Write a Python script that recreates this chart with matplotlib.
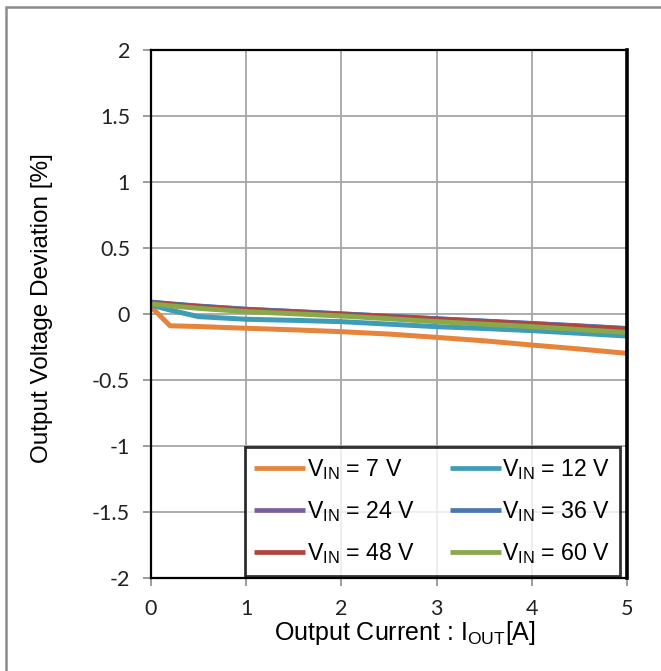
import matplotlib
matplotlib.use("Agg")
import matplotlib.pyplot as plt
from matplotlib.patches import Rectangle

# load current [A]
iout = [0, 0.2, 0.5, 1, 1.5, 2, 2.5, 3, 3.5, 4, 4.5, 5]

# output voltage deviation [%] per input voltage
dev_7v  = [0.055, -0.089, -0.095, -0.108, -0.120, -0.134, -0.152, -0.177, -0.203, -0.235, -0.265, -0.298]
dev_12v = [0.068, 0.030, -0.020, -0.040, -0.048, -0.058, -0.077, -0.096, -0.110, -0.126, -0.146, -0.167]
dev_24v = [0.088, 0.075, 0.058, 0.035, 0.018, 0.000, -0.018, -0.037, -0.055, -0.073, -0.092, -0.112]
dev_36v = [0.090, 0.077, 0.060, 0.036, 0.019, 0.001, -0.017, -0.036, -0.054, -0.072, -0.090, -0.110]
dev_48v = [0.085, 0.072, 0.055, 0.030, 0.014, -0.003, -0.021, -0.040, -0.058, -0.076, -0.096, -0.116]
dev_60v = [0.076, 0.062, 0.043, 0.018, 0.002, -0.015, -0.036, -0.058, -0.077, -0.096, -0.118, -0.140]

labels = ["7", "12", "24", "36", "48", "60"]
colors = ["#E5843A", "#3E9CB6", "#7B5E9E", "#4A78B0", "#B2433F", "#88A84A"]

xticks = [0, 1, 2, 3, 4, 5]
yticks = [-2, -1.5, -1, -0.5, 0, 0.5, 1, 1.5, 2]

plt.rcParams["mathtext.fontset"] = "custom"
plt.rcParams["mathtext.rm"] = "Liberation Sans"

fig = plt.figure(figsize=(6.61, 6.71), dpi=100)
ax = fig.add_axes([151 / 661, 1 - 578 / 671, 476 / 661, 528 / 671])

# grey frame round the whole chart
fig.patches.append(Rectangle((6 / 661, -0.05), 1.2, 1 - 7 / 671 + 0.05,
                             transform=fig.transFigure, fill=False,
                             edgecolor="#8c8c8c", linewidth=1.8))

series = [dev_7v, dev_12v, dev_24v, dev_36v, dev_48v, dev_60v]
lines = []
for ys, lab, c in zip(series, labels, colors):
    ln, = ax.plot(iout, ys, color=c, linewidth=3.6,
                  label=r"V$_{\rm IN}$ = " + lab + " V", solid_capstyle="butt")
    lines.append(ln)

ax.set_xlim(0, 5)
ax.set_ylim(-2, 2)
ax.set_xticks(xticks)
ax.set_yticks(yticks)
ax.set_xticklabels([str(v) for v in xticks], fontfamily="Lato", fontsize=15.5)
ax.set_yticklabels([("%g" % v) for v in yticks], fontfamily="Lato", fontsize=15.5)
ax.tick_params(axis="both", direction="out", length=6, width=1.2,
               color="#8c8c8c", pad=9, labelcolor="#222222")
ax.grid(True, color="#a6a6a6", linewidth=1.3)
ax.set_axisbelow(True)
for s in ax.spines.values():
    s.set_color("black")
    s.set_linewidth(1.6)
ax.spines["right"].set_linewidth(2.6)

ax.set_xlabel(r"Output Current : I$_{\rm OUT}$[A]", fontfamily="Liberation Sans",
              fontsize=18)
ax.set_ylabel("Output Voltage Deviation [%]", fontfamily="Liberation Sans",
              fontsize=17.5)
ax.xaxis.set_label_coords(0.533, -0.078)
ax.yaxis.set_label_coords(-0.206, 0.512)

# legend filled row by row: 7/12, 24/36, 48/60
order = [0, 2, 4, 1, 3, 5]
leg = ax.legend([lines[i] for i in order], [lines[i].get_label() for i in order],
                ncol=2, loc="lower right", bbox_to_anchor=(0.985, 0.004),
                prop={"family": "Liberation Sans", "size": 16.7},
                frameon=True, fancybox=False, handlelength=2.2,
                handletextpad=0.05, columnspacing=1.5, labelspacing=0.75,
                borderpad=0.42, borderaxespad=0.0)
leg.get_frame().set_edgecolor("black")
leg.get_frame().set_linewidth(2.0)
for h in leg.get_lines():
    h.set_linewidth(3.4)

fig.savefig("out.png", dpi=100)
